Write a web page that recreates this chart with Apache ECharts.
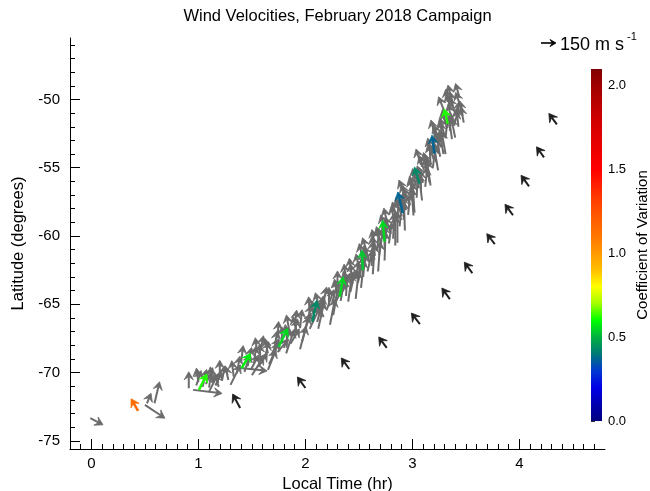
<!DOCTYPE html>
<html><head><meta charset="utf-8">
<script src="https://cdn.jsdelivr.net/npm/echarts@6/dist/echarts.min.js"></script>
<style>html,body{margin:0;padding:0;background:#fff}#c{width:650px;height:491px}</style>
</head><body><div id="c"></div>
<script>
// ---------------- data ----------------
const xTicks = [0, 1, 2, 3, 4];
const yTicks = [-75, -70, -65, -60, -55, -50];
const cvTicks = [0, 0.5, 1.0, 1.5, 2.0];
const cvRange = [0, 2.1];
const scaleSpeed = 150; // m/s, reference arrow

// individual wind vectors: [local time (hr), latitude (deg), u (m/s, east), v (m/s, north)]
const grayArrows = [
  [-0.01,-73.34,127,-67],[0.50,-72.37,200,-133],[0.52,-72.25,40,100],[0.59,-72.25,50,215],
  [0.91,-71.15,0,165],[0.95,-71.27,290,-35],[0.98,-70.95,50,150],[1.04,-71.05,40,175],
  [1.07,-70.85,70,165],[1.10,-71.10,20,150],[1.13,-70.75,-20,160],[1.16,-70.95,60,140],
  [1.19,-71.05,-40,130],[1.22,-70.60,30,150],
  [1.28,-70.55,-30,140],[1.33,-70.30,-20,160],[1.36,-70.05,30,170],[1.39,-69.66,270,-30],
  [1.43,-69.95,60,180],[1.46,-69.55,40,190],[1.49,-69.80,80,150],[1.52,-69.35,20,175],
  [1.56,-69.60,90,140],[1.58,-69.10,-10,160],
  [1.62,-68.95,40,165],[1.65,-68.60,-30,150],[1.68,-68.75,80,170],[1.71,-68.25,30,180],
  [1.74,-68.50,110,130],[1.78,-67.90,0,170],[1.80,-68.20,60,190],[1.83,-67.65,-20,160],
  [1.86,-67.90,90,150],[1.89,-67.35,40,175],
  [1.92,-67.05,-40,160],[1.95,-66.75,20,185],[1.98,-67.10,80,200],[2.01,-66.45,50,190],
  [2.04,-66.80,100,210],[2.08,-66.00,-20,170],[2.11,-66.30,60,230],[2.14,-65.70,30,180],
  [2.17,-65.95,-60,150],[2.20,-65.40,70,200],
  [2.22,-65.15,0,190],[2.25,-64.85,60,210],[2.27,-65.10,110,250],[2.30,-64.40,-30,170],
  [2.33,-64.75,40,240],[2.35,-64.05,70,180],[2.38,-64.40,10,200],[2.40,-63.75,-50,160],
  [2.42,-64.10,50,220],
  [2.44,-63.50,-20,200],[2.47,-63.15,30,180],[2.49,-63.45,60,260],[2.51,-62.70,-40,190],
  [2.54,-63.00,20,230],[2.56,-62.25,-10,170],[2.58,-62.60,50,210],[2.60,-61.90,-60,160],
  [2.62,-62.20,10,250],
  [2.65,-61.45,-30,200],[2.67,-61.10,20,220],[2.69,-61.40,40,270],[2.71,-60.70,-50,190],
  [2.74,-60.95,0,240],[2.76,-60.20,-20,180],[2.78,-60.55,30,210],[2.80,-59.85,-60,170],
  [2.82,-60.20,10,260],
  [2.84,-59.30,-40,200],[2.86,-58.95,10,220],[2.88,-59.30,30,280],[2.90,-58.55,-60,190],
  [2.92,-58.80,-10,240],[2.94,-58.10,-30,180],[2.96,-58.45,20,210],[2.98,-57.75,-70,170],
  [3.00,-57.35,-20,210],[3.02,-57.00,-50,190],[3.04,-57.20,10,250],[3.06,-56.50,-40,180],
  [3.08,-56.80,0,220],[3.10,-56.10,-60,170],[3.12,-56.40,20,200],[3.14,-55.70,-30,190],
  [3.15,-55.20,-50,180],[3.17,-54.85,-10,210],[3.19,-55.05,30,230],[3.20,-54.40,-60,170],
  [3.22,-54.60,-20,200],[3.24,-53.95,10,180],[3.26,-54.20,-40,210],[3.27,-53.50,-70,160],
  [3.28,-53.00,-20,190],[3.30,-52.60,-50,170],[3.31,-52.85,20,210],[3.33,-52.10,-60,160],
  [3.35,-52.30,10,180],[3.37,-51.60,-40,170],[3.39,-51.90,40,150],[3.40,-51.00,-60,150],
  [3.42,-51.30,20,160],[3.38,-50.55,-30,150],[3.45,-50.50,-50,140],[3.47,-51.20,-30,150],
  [3.44,-49.85,-40,140],
  // lower-right edge of the swath
  [1.10,-71.40,90,180],[1.30,-70.90,100,200],[1.50,-70.20,120,190],[1.66,-69.40,100,220],
  [1.82,-68.60,80,240],[1.97,-67.70,70,250],[2.12,-66.80,60,270],[2.26,-65.80,50,280],
  [2.40,-64.80,40,290],[2.52,-63.80,30,280],[2.63,-62.80,20,300],[2.74,-61.80,10,290],
  [2.84,-60.70,0,300],[2.93,-59.60,-10,290],[3.01,-58.50,-20,280],[3.09,-57.40,-30,270],
  [3.17,-56.30,-40,250],[3.24,-55.20,-40,240],[3.31,-54.00,-40,230],[3.37,-52.90,-30,210],
  [3.43,-52.00,-20,190],
  [1.65,-69.80,80,200],[1.95,-68.30,60,230],[2.23,-66.50,50,260],[2.47,-64.60,30,280],
  [2.68,-62.60,20,300],[2.86,-60.50,0,310],[3.02,-58.30,-20,300],[3.16,-56.10,-30,260],
  [3.29,-54.00,-40,240],[3.40,-52.80,-40,200],[3.48,-51.70,-30,160],
  // upper-left edge of the swath
  [1.00,-70.70,-20,140],[1.20,-70.20,0,150],[1.40,-69.20,20,160],[1.58,-68.40,30,150],
  [1.74,-67.50,10,170],[1.90,-66.60,20,160],[2.04,-65.70,-10,170],[2.17,-64.90,30,160],
  [2.30,-63.80,0,170],[2.43,-62.80,-20,160],[2.54,-61.80,-40,170],[2.65,-60.70,-30,160],
  [2.75,-59.70,-50,170],[2.85,-58.60,-40,150],[2.95,-57.40,-60,160],[3.03,-56.30,-30,170],
  [3.11,-55.20,-50,150],[3.18,-54.00,-40,160],[3.25,-52.90,-60,140],[3.31,-51.80,-30,150],
  [3.36,-50.60,-50,140],[3.33,-50.20,-20,130],
  [1.55,-68.55,-20,150],[1.85,-66.95,-30,160],[2.13,-65.25,-40,150],[2.38,-63.30,-20,170],
  [2.58,-61.30,-50,160],[2.77,-59.20,-40,170],[2.93,-57.00,-60,150],[3.08,-54.80,-50,160],
  [3.21,-52.60,-40,150],[3.30,-50.90,-60,150],[3.36,-49.90,-30,130]
];

// binned mean vectors: [local time, latitude, u, v, coefficient of variation]
const meanArrows = [
  [0.436,-72.80,-70,120,1.15],
  [1.005,-71.27,80,160,0.62],
  [1.403,-69.69,90,150,0.58],
  [1.751,-68.11,90,185,0.55],
  [2.065,-66.28,45,215,0.43],
  [2.320,-64.45,35,200,0.55],
  [2.537,-62.50,-10,200,0.53],
  [2.740,-60.43,-20,215,0.55],
  [2.910,-58.31,-50,210,0.37],
  [3.066,-56.16,-50,165,0.43],
  [3.206,-53.97,-25,185,0.37],
  [3.330,-51.78,-35,150,0.62]
];

// comparison track vectors: [local time, latitude, u, v]
const blackArrows = [
  [1.39,-72.60,-75,140],[2.00,-71.13,-80,110],[2.41,-69.74,-80,110],[2.76,-68.20,-80,110],
  [3.07,-66.45,-85,110],[3.35,-64.62,-80,110],[3.56,-62.72,-80,110],[3.77,-60.60,-80,105],
  [3.94,-58.48,-80,110],[4.09,-56.36,-80,110],[4.23,-54.24,-75,105],[4.35,-51.83,-80,110]
];

const cvColors = ['#000080','#0000b0','#0000e8','#0038d0','#007878','#00b040','#00ff00','#a0ff00',
  '#ffff00','#ffc000','#ff9900','#ff7700','#ff5f00','#ff4400','#ff2200','#ff0000','#f00000',
  '#e00000','#d00000','#b80000','#a00000','#800000'];

// ---------------- drawing ----------------
const FONT = 'Liberation Sans, Arial, Helvetica, sans-serif';
const PX_PER_MS = 0.1; // 150 m/s -> 15 px

function arrowEls(x0, y0, x1, y1, color, lw, hl, hw) {
  const dx = x1 - x0, dy = y1 - y0, L = Math.hypot(dx, dy) || 1;
  const ux = dx / L, uy = dy / L, px = -uy, py = ux;
  const h = Math.min(hl, L * 0.9);
  const bx = x1 - ux * h, by = y1 - uy * h;
  const nx = x1 - ux * h * 0.6, ny = y1 - uy * h * 0.6;
  return [
    {type: 'line', shape: {x1: x0, y1: y0, x2: nx, y2: ny}, style: {stroke: color, lineWidth: lw}},
    {type: 'polygon', shape: {points: [[x1, y1], [bx + px * hw, by + py * hw], [nx, ny], [bx - px * hw, by - py * hw]]},
     style: {fill: color, stroke: color, lineWidth: 0.8, lineJoin: 'round'}}
  ];
}

function makeRender(colorFn, lw, hl, hw) {
  return function (params, api) {
    const p = api.coord([api.value(0), api.value(1)]);
    const u = api.value(2), v = api.value(3);
    const q = [p[0] + u * PX_PER_MS, p[1] - v * PX_PER_MS];
    return {type: 'group', children: arrowEls(p[0], p[1], q[0], q[1], colorFn(api), lw, hl, hw)};
  };
}

const gradStops = cvColors.map((c, i) => ({offset: i / (cvColors.length - 1), color: c}));
const scaleLen = scaleSpeed * PX_PER_MS;
const chart = echarts.init(document.getElementById('c'), null, {renderer: 'canvas'});
chart.setOption({
  animation: false,
  backgroundColor: '#fff',
  textStyle: {fontFamily: FONT},
  title: {
    text: 'Wind Velocities, February 2018 Campaign',
    left: 337.5, top: 8, padding: 0, textAlign: 'center',
    textStyle: {fontSize: 16.5, fontWeight: 'normal', color: '#000', fontFamily: FONT}
  },
  grid: [
    {left: 70, right: 45, top: 38, bottom: 42, containLabel: false, outerBoundsMode: 'none'},
    {left: 591, top: 69, width: 11, height: 352, containLabel: false, outerBoundsMode: 'none'}
  ],
  xAxis: [{
    type: 'value', gridIndex: 0, min: -0.2, max: 4.8,
    axisLine: {onZero: false, lineStyle: {color: '#000', width: 1}},
    axisTick: {inside: true, length: 10, customValues: xTicks, lineStyle: {color: '#000'}},
    minorTick: {show: true, splitNumber: 10, length: 5, lineStyle: {color: '#000'}},
    axisLabel: {customValues: xTicks, fontSize: 15, color: '#000', margin: 7, fontFamily: FONT},
    splitLine: {show: false},
    name: 'Local Time (hr)', nameLocation: 'middle', nameGap: 23,
    nameTextStyle: {fontSize: 16.5, color: '#000', fontFamily: FONT}
  }, {
    type: 'value', gridIndex: 1, min: 0, max: 1, show: false
  }],
  yAxis: [{
    type: 'value', gridIndex: 0, min: -75.6, max: -45.5,
    axisLine: {onZero: false, lineStyle: {color: '#000', width: 1}},
    axisTick: {inside: true, length: 10, customValues: yTicks, lineStyle: {color: '#000'}},
    minorTick: {show: true, splitNumber: 5, length: 5, lineStyle: {color: '#000'}},
    axisLabel: {customValues: yTicks, fontSize: 15, color: '#000', margin: 10, fontFamily: FONT},
    splitLine: {show: false},
    name: 'Latitude (degrees)', nameLocation: 'middle', nameGap: 40,
    nameTextStyle: {fontSize: 16.5, color: '#000', fontFamily: FONT}
  }, {
    type: 'value', gridIndex: 1, position: 'right', min: cvRange[0], max: cvRange[1],
    axisLine: {show: false},
    axisTick: {show: true, inside: false, length: 4, customValues: cvTicks, lineStyle: {color: '#333'}},
    minorTick: {show: true, splitNumber: 5, length: 2, lineStyle: {color: '#555'}},
    axisLabel: {customValues: cvTicks, formatter: v => v.toFixed(1), fontSize: 13, color: '#000', margin: 6, fontFamily: FONT},
    splitLine: {show: false},
    name: 'Coefficient of Variation', nameLocation: 'middle', nameRotate: 90, nameGap: 33,
    nameTextStyle: {fontSize: 15, color: '#000', fontFamily: FONT}
  }],
  visualMap: {
    type: 'continuous', show: false, seriesIndex: 1, dimension: 4,
    min: cvRange[0], max: cvRange[1], inRange: {color: cvColors}
  },
  graphic: [{
    type: 'group', children: arrowEls(541, 43, 541 + scaleLen, 43, '#000', 1.6, 6, 3.5).concat([
      {type: 'text', x: 560, y: 45, style: {text: '150 m s', fontSize: 18, fill: '#000', fontFamily: FONT, verticalAlign: 'middle'}},
      {type: 'text', x: 627, y: 37, style: {text: '-1', fontSize: 11, fill: '#000', fontFamily: FONT, verticalAlign: 'middle'}}
    ])
  }],
  series: [{
    type: 'custom', xAxisIndex: 0, yAxisIndex: 0, z: 2,
    renderItem: makeRender(() => '#6b6b6b', 2, 8, 4.6),
    data: grayArrows
  }, {
    type: 'custom', xAxisIndex: 0, yAxisIndex: 0, z: 3,
    renderItem: makeRender(api => api.visual('color'), 2.5, 8, 4.6),
    data: meanArrows
  }, {
    type: 'custom', xAxisIndex: 0, yAxisIndex: 0, z: 3,
    renderItem: makeRender(() => '#1e1e1e', 2, 8, 4.8),
    data: blackArrows
  }, {
    type: 'custom', xAxisIndex: 1, yAxisIndex: 1, silent: true,
    renderItem: function (params, api) {
      const p0 = api.coord([0, api.value(0)]);
      const p1 = api.coord([1, api.value(1)]);
      return {type: 'rect', shape: {x: p0[0], y: p1[1], width: p1[0] - p0[0], height: p0[1] - p1[1]},
        style: {fill: new echarts.graphic.LinearGradient(0, 1, 0, 0, gradStops)}};
    },
    data: [cvRange]
  }]
});
</script>
</body></html>
